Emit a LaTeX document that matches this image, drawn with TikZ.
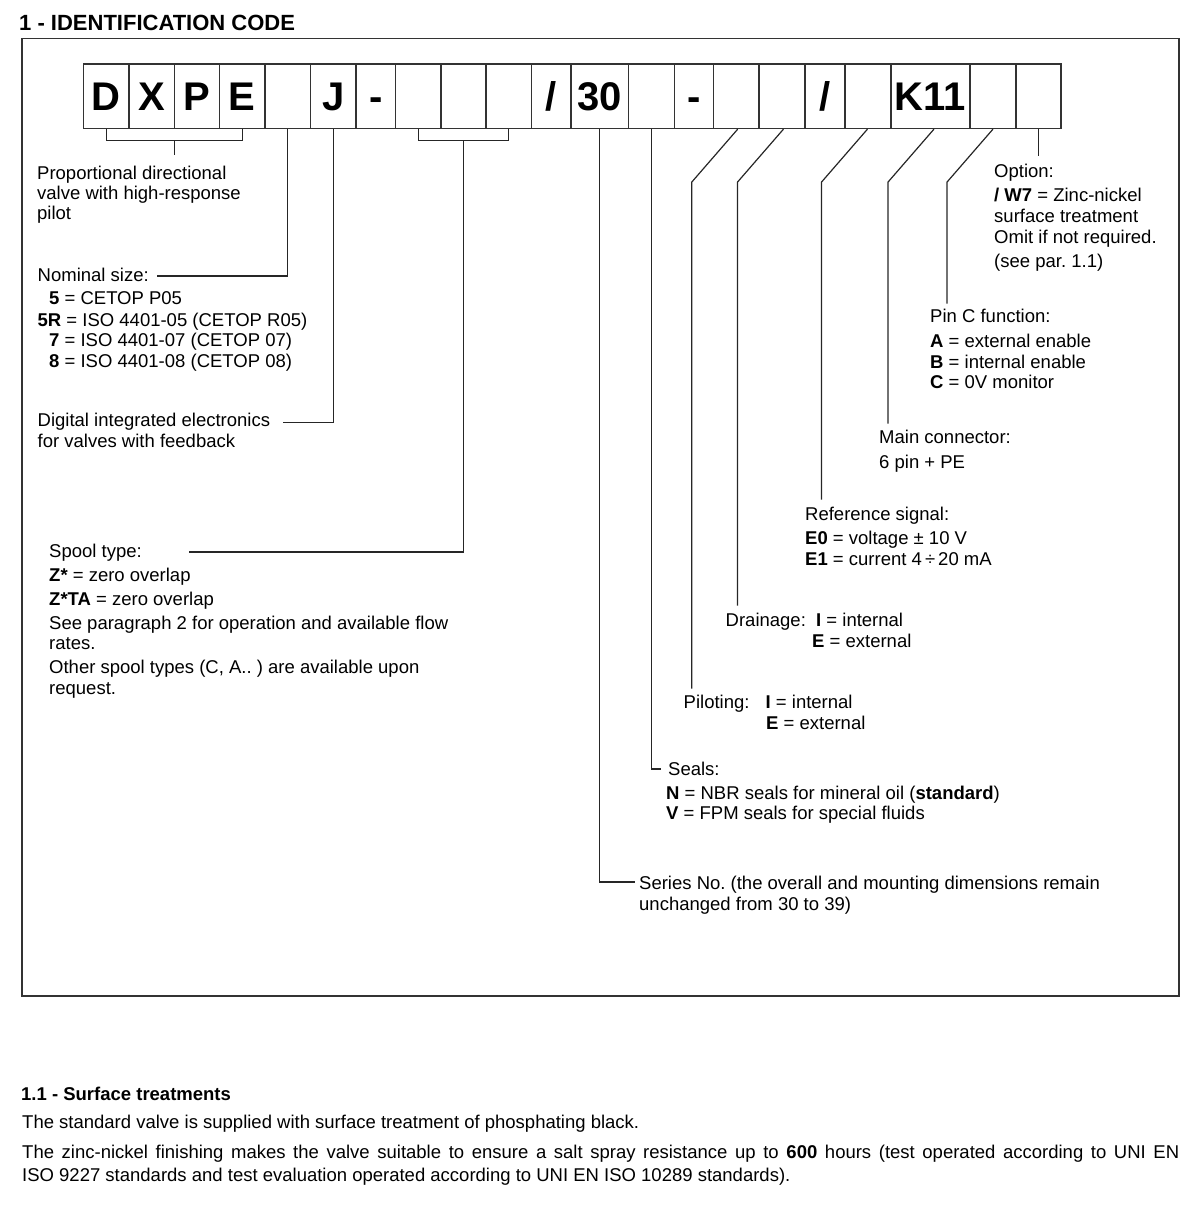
\documentclass[tikz,border=0pt]{standalone}
\usepackage{fontspec}
\setmainfont{Liberation Sans}
\usetikzlibrary{calc}
\frenchspacing
\tikzset{
  ln/.style={line width=1.2pt, draw=black!85},
  frame/.style={line width=1.4pt, draw=black!80},
  cbox/.style={draw=black!80, line width=1.2pt, minimum height=64.5pt, inner sep=0pt,
    text height=28.5pt, text depth=0pt, font=\fontsize{40}{40}\selectfont\bfseries},
  txt/.style={anchor=base west, inner sep=0pt, font=\fontsize{18.5}{21}\selectfont},
  ttl/.style={anchor=base west, inner sep=0pt, font=\fontsize{22}{24}\selectfont\bfseries},
}
\newcommand\myline[4]{\node[txt] (#1) at (#2,#3) {#4};}
\newcommand\mybox[4]{\node[cbox, minimum width={#3-#2}] (#1) at ({(#2+#3)/2},96.25) {#4};}
\begin{document}
\begin{tikzpicture}[x=1pt,y=-1pt]
\useasboundingbox (0,0) rectangle (1200,1214);
% title
\node[ttl] (title) at (19,31) {1 - IDENTIFICATION CODE};
% frame
\draw[frame] (22,38.3) rectangle (1179,996);
% code boxes
\mybox{b1}{83.5}{129}{D}
\mybox{b2}{129}{174.5}{X}
\mybox{b3}{174.5}{219.5}{P}
\mybox{b4}{219.5}{265}{E}
\mybox{b5}{265}{310.5}{}
\mybox{b6}{310.5}{356}{J}
\mybox{b7}{356}{395.5}{-}
\mybox{b8}{395.5}{441}{}
\mybox{b9}{441}{486}{}
\mybox{b10}{486}{531.5}{}
\mybox{b11}{531.5}{571}{/}
\mybox{b12}{571}{628.5}{30}
\mybox{b13}{628.5}{674.5}{}
\mybox{b14}{674.5}{713.5}{-}
\mybox{b15}{713.5}{759}{}
\mybox{b16}{759}{805}{}
\mybox{b17}{805}{845}{/}
\mybox{b18}{845}{891}{}
\mybox{b19}{891}{970}{K11}
\mybox{b20}{970}{1016}{}
\mybox{b21}{1016}{1061}{}
% left texts
\myline{pa}{37}{180}{Proportional directional}
\myline{pb}{37}{200}{valve with high-response}
\myline{pc}{37}{219.5}{pilot}
\myline{na}{37.5}{281.5}{Nominal size:}
\myline{nb}{49}{305}{\textbf{5} = CETOP P05}
\myline{nc}{37.5}{326}{\textbf{5R} = ISO 4401-05 (CETOP R05)}
\myline{nd}{49}{346.5}{\textbf{7} = ISO 4401-07 (CETOP 07)}
\myline{ne}{49}{367}{\textbf{8} = ISO 4401-08 (CETOP 08)}
\myline{da}{37.5}{426.5}{Digital integrated electronics}
\myline{db}{37.5}{447}{for valves with feedback}
\myline{sa}{49}{557.5}{Spool type:}
\myline{sb}{49}{581}{\textbf{Z*} = zero overlap}
\myline{sc}{49}{605}{\textbf{Z*TA} = zero overlap}
\myline{sd}{49}{629}{See paragraph 2 for operation and available flow}
\myline{se}{49}{649.5}{rates.}
\myline{sf}{49}{673.5}{Other spool types (C, A.. ) are available upon}
\myline{sg}{49}{694}{request.}
% right texts
\myline{oa}{994}{178}{Option:}
\myline{ob}{994}{202}{\textbf{/ W7} = Zinc-nickel}
\myline{oc}{994}{223}{surface treatment}
\myline{od}{994}{244}{Omit if not required.}
\myline{oe}{994}{267.5}{(see par. 1.1)}
\myline{ca}{930}{322}{Pin C function:}
\myline{cb}{930}{347}{\textbf{A} = external enable}
\myline{cc}{930}{368}{\textbf{B} = internal enable}
\myline{cd}{930}{388.5}{\textbf{C} = 0V monitor}
\myline{ma}{879}{443.5}{Main connector:}
\myline{mb}{879}{468}{6 pin + PE}
\myline{ra}{805}{520}{Reference signal:}
\myline{rb}{805}{544}{\textbf{E0} = voltage ± 10 V}
\myline{rc}{805}{565}{\textbf{E1} = current 4\,÷\,20 mA}
\myline{dra}{725.5}{626.5}{Drainage:}
\myline{drb}{816}{626.5}{\textbf{I} = internal}
\myline{drc}{812}{647}{\textbf{E} = external}
\myline{pia}{683.5}{708}{Piloting:}
\myline{pib}{765.5}{708}{\textbf{I} = internal}
\myline{pic}{766}{729}{\textbf{E} = external}
\myline{sea}{668}{775}{Seals:}
\myline{seb}{666}{799}{\textbf{N} = NBR seals for mineral oil (\textbf{standard})}
\myline{sec}{666}{819}{\textbf{V} = FPM seals for special fluids}
\myline{sra}{639}{889}{Series No. (the overall and mounting dimensions remain}
\myline{srb}{639}{910}{unchanged from 30 to 39)}
% bottom section
\node[anchor=base west, inner sep=0pt, font=\fontsize{18.5}{21}\selectfont\bfseries] (sh) at (21,1100.5) {1.1 - Surface treatments};
\myline{ba}{22}{1128}{The standard valve is supplied with surface treatment of phosphating black.}
\myline{bb}{22}{1158.5}{\makebox[1157pt][s]{The zinc-nickel finishing makes the valve suitable to ensure a salt spray resistance up to \textbf{600} hours (test operated according to UNI EN}}
\myline{bc}{22}{1181}{ISO 9227 standards and test evaluation operated according to UNI EN ISO 10289 standards).}
% free end coordinates
\coordinate (nomEnd) at (157,276);
\coordinate (digEnd) at (283,422.5);
\coordinate (spoEnd) at (189,552);
\coordinate (serEnd) at (635,882);
\coordinate (seaEnd) at (661,769);
% connectors
\draw[ln] (b1.south) -- ++(0,11.5) -| (b4.south);
\draw[ln] ($(b1.south)!0.5!(b4.south)+(0,11.5)$) -- ++(0,14);
\draw[ln] (b5.south) |- (nomEnd);
\draw[ln] (b6.south) |- (digEnd);
\draw[ln] (b8.south) -- ++(0,11.5) -| (b10.south);
\draw[ln] ($(b9.south)+(0,11.5)$) |- (spoEnd);
\draw[ln] (b12.south) |- (serEnd);
\draw[ln] (b13.south) |- (seaEnd);
\draw[ln] ([xshift=1.5pt]b15.south) -- ++(-46,53) -- ++(0,506.5);
\draw[ln] ([xshift=1.5pt]b16.south) -- ++(-46,53) -- ++(0,423.5);
\draw[ln] ([xshift=-0.5pt]b18.south) -- ++(-46,53) -- ++(0,317.5);
\draw[ln] ([xshift=3.5pt]b19.south) -- ++(-46,53) -- ++(0,241.5);
\draw[ln] (b20.south) -- ++(-46,53) -- ++(0,121.5);
\draw[ln] (b21.south) -- ++(0,26.5);
\end{tikzpicture}
\end{document}
